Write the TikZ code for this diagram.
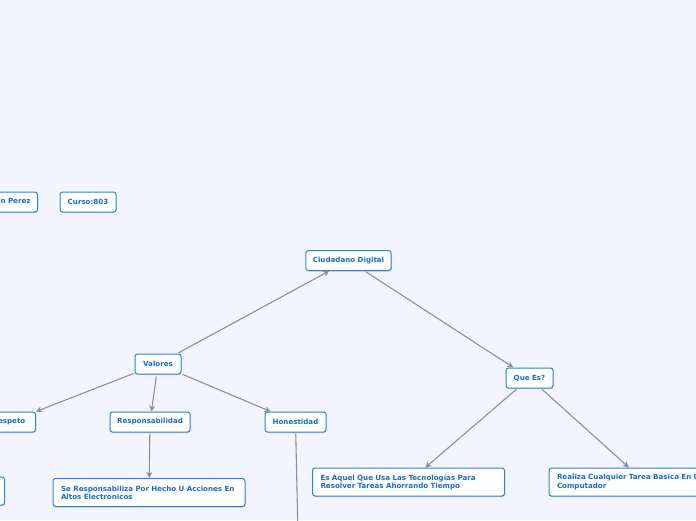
\documentclass[tikz,border=0pt]{standalone}
\usepackage{fontspec}
\setmainfont{DejaVu Sans}
\usetikzlibrary{arrows.meta,shadows,positioning}
\definecolor{bgc}{HTML}{F2F5FD}
\definecolor{bordc}{HTML}{2F80E0}
\definecolor{txtc}{HTML}{1B6AC9}
\definecolor{linec}{HTML}{8A8F99}
\tikzset{
  box/.style={draw=bordc, line width=1pt, fill=white, rounded corners=2.5pt,
    text=txtc, font=\bfseries\fontsize{7.1}{8.2}\selectfont,
    minimum height=20pt, inner xsep=7pt, inner ysep=2pt,
    drop shadow={shadow xshift=0.6pt, shadow yshift=-1pt, opacity=0.25, fill=black!60}},
  wide/.style={box, text width=176pt, align=left, minimum height=28pt, inner xsep=8pt},
  conn/.style={draw=linec, line width=1.1pt, -{Stealth[length=6pt,width=6pt]}, shorten <=1pt}
}
\begin{document}
\begin{tikzpicture}[x=1pt,y=-1pt]
\fill[bgc] (0,0) rectangle (696,520);
\useasboundingbox (0,0) rectangle (696,520);
\clip (0,0) rectangle (696,520);
\node[box, anchor=east] (juan) at (38,202) {Juan Perez};
\node[box, minimum width=56pt] (curso) at (88,202) {Curso:803};
\node[box, minimum width=85pt] (ciud) at (348.5,260.5) {Ciudadano Digital};
\node[box, minimum width=46pt] (val) at (158,364) {Valores};
\node[box, minimum width=53pt] (resp) at (9,422) {Respeto};
\node[box, minimum width=80pt] (respo) at (150,422) {Responsabilidad};
\node[box, minimum width=61pt] (hon) at (295.5,422) {Honestidad};
\node[box, minimum width=47pt] (que) at (529.5,378) {Que Es?};
\node[wide] (serespo) at (149,492.5) {Se Responsabiliza Por Hecho U Acciones En\\Altos Electronicos};
\node[wide] (aquel) at (408.5,482) {Es Aquel Que Usa Las Tecnologías Para\\Resolver Tareas Ahorrando Tiempo};
\node[wide] (realiza) at (645,482) {Realiza Cualquier Tarea Basica En Un\\Computador};
\node[box, anchor=east, minimum width=192pt, minimum height=28pt] (left) at (5,491) {};
\coordinate (honend) at (299,580);
\draw[conn] (val) -- (ciud);
\draw[conn] (ciud) -- (que);
\draw[conn] (val) -- (resp);
\draw[conn, shorten <=2pt] (val) -- (respo);
\draw[conn] (val) -- (hon);
\draw[conn] (respo) -- (serespo);
\draw[conn] (que) -- (aquel);
\draw[conn] (que) -- (realiza);
\draw[conn] (hon) -- (honend);
\end{tikzpicture}
\end{document}
